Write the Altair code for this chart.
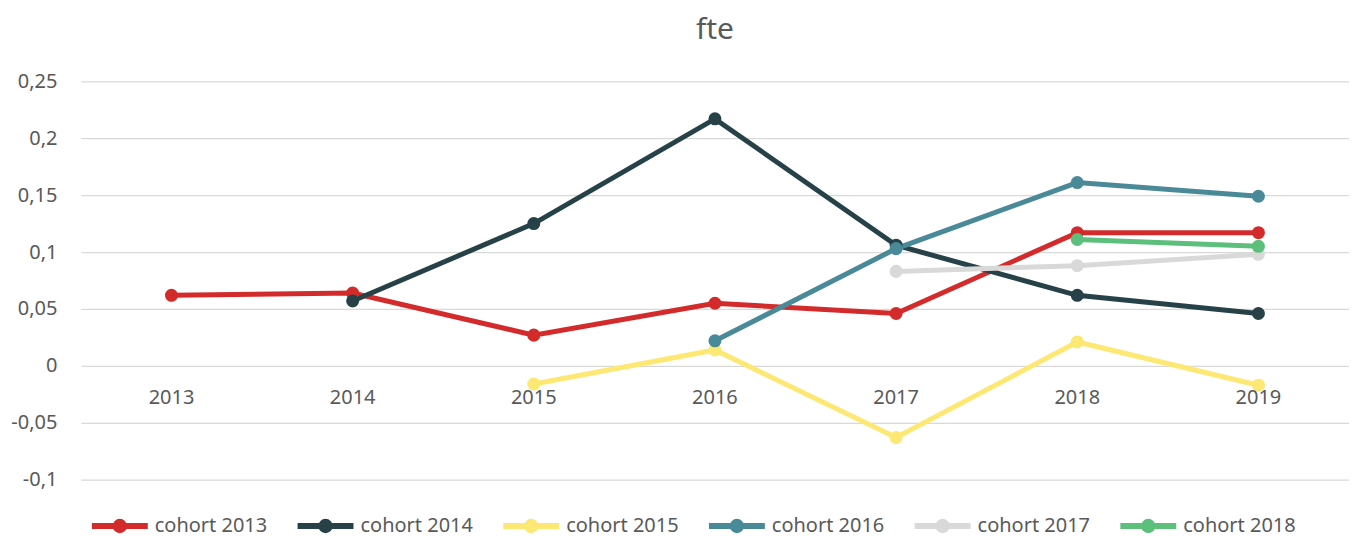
import altair as alt
import pandas as pd

years = ["2013", "2014", "2015", "2016", "2017", "2018", "2019"]
cohorts = ["cohort 2013", "cohort 2014", "cohort 2015", "cohort 2016", "cohort 2017", "cohort 2018"]
colors = ["#D32B2B", "#264248", "#FDE874", "#4A8A98", "#D9D9D9", "#5DBF7C"]

cohort_2013 = [0.062, 0.064, 0.027, 0.055, 0.046, 0.117, 0.117]
cohort_2014 = [None, 0.057, 0.125, 0.217, 0.106, 0.062, 0.046]
cohort_2015 = [None, None, -0.016, 0.014, -0.063, 0.021, -0.017]
cohort_2016 = [None, None, None, 0.022, 0.103, 0.161, 0.149]
cohort_2017 = [None, None, None, None, 0.083, 0.088, 0.098]
cohort_2018 = [None, None, None, None, None, 0.111, 0.105]
series = [cohort_2013, cohort_2014, cohort_2015, cohort_2016, cohort_2017, cohort_2018]

y_ticks = [-0.1, -0.05, 0, 0.05, 0.1, 0.15, 0.2, 0.25]

rows = []
for ci, (name, vals) in enumerate(zip(cohorts, series)):
    for yr, v in zip(years, vals):
        if v is not None:
            rows.append({"year": yr, "cohort": name, "value": v, "order": ci})
df = pd.DataFrame(rows)
years_df = pd.DataFrame({"year": years})

FONT = "Noto Sans"
GRAY = "#595959"

legend_path = "M-1,0H1M-0.15,0A0.15,0.15 0 1,0 0.15,0A0.15,0.15 0 1,0 -0.15,0"

x_enc = alt.X("year:O", sort=years, axis=None, scale=alt.Scale(type="point", padding=0.5))
y_enc = alt.Y("value:Q",
              scale=alt.Scale(domain=[-0.1, 0.25], nice=False, zero=False),
              axis=alt.Axis(values=y_ticks, title=None, domain=False, ticks=False,
                            labelExpr="replace(toString(datum.value), '.', ',')",
                            labelFontSize=20, labelColor=GRAY, labelFont=FONT,
                            labelPadding=24, gridColor="#D9D9D9", gridWidth=1.3))
color_enc = alt.Color("cohort:N",
                      scale=alt.Scale(domain=cohorts, range=colors),
                      legend=alt.Legend(orient="none", legendX=8, legendY=414,
                                        direction="horizontal", title=None,
                                        symbolType=legend_path, symbolSize=3136,
                                        symbolStrokeWidth=6, symbolOpacity=1,
                                        labelFontSize=20, labelColor=GRAY, labelFont=FONT,
                                        labelOffset=4, columnPadding=18))

lines = alt.Chart(df).mark_line(strokeWidth=5).encode(
    x=x_enc, y=y_enc, color=color_enc, detail="cohort:N", order="order:Q"
)
points = alt.Chart(df).mark_point(filled=True, size=170, opacity=1).encode(
    x=x_enc, y=y_enc, color=color_enc
)
labels = alt.Chart(years_df).mark_text(dy=32, fontSize=20, color=GRAY, font=FONT,
                                        baseline="middle").encode(
    x=alt.X("year:O", sort=years, axis=None, scale=alt.Scale(type="point", padding=0.5)),
    y=alt.datum(0),
    text="year:N",
)

chart = alt.layer(lines, points, labels).properties(
    width=1270, height=399,
    title=alt.Title("fte", fontSize=30, font=FONT, color=GRAY, fontWeight="normal",
                    anchor="middle", offset=26),
    autosize=alt.AutoSizeParams(type="none"),
    padding={"left": 73, "top": 73, "right": 0, "bottom": 58},
).configure_view(stroke=None)

chart.save("out.html", embed_options={"renderer": "svg", "actions": False})
